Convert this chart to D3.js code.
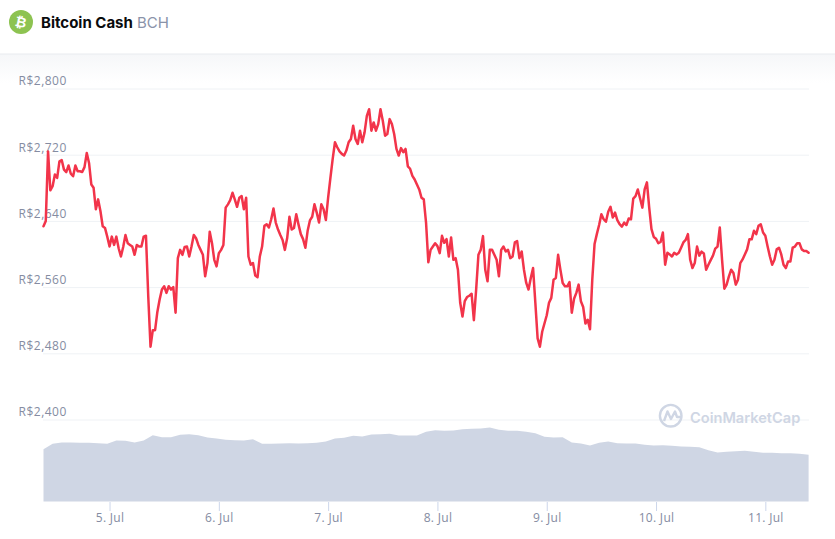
<!DOCTYPE html>
<html><head><meta charset="utf-8">
<script src="https://cdn.jsdelivr.net/npm/d3@7"></script>
<style>html,body{margin:0;padding:0;background:#fff}svg{display:block}text{font-family:Inter,"Liberation Sans",sans-serif}</style>
</head><body><div id="chart"></div>
<script>
const title="Bitcoin Cash", symbol="BCH", watermark="CoinMarketCap";
const priceTicks=[2400,2480,2560,2640,2720,2800];
const dayTicks=[5,6,7,8,9,10,11];
// price every 30 minutes starting 4 Jul 09:30 UTC
const priceValues=[2633.5,2640,2724,2677,2682,2696,2692,2712,2713.5,2702,2699,2707,2697,2694,2707,2700,2700,2699,2705,2722,2710,2684,2680,2654,2666,2652,2633.5,2631.5,2621,2609,2621,2611,2621,2607,2597,2608.5,2623,2613,2611,2609,2599,2611,2609,2609,2621,2622,2549,2488,2508,2508,2530,2545,2557,2561,2553,2561,2557,2560,2529,2595,2605,2599,2608.5,2609,2597,2609,2623,2619,2611,2605,2599,2573,2589,2627,2613,2593,2585,2601,2605,2611,2656,2660,2665,2674,2666,2657,2668,2670,2654,2668,2597,2587,2589,2574,2572,2597,2609,2634,2636,2632,2642,2655,2638,2629.5,2623,2617,2605,2619,2645,2629.5,2631.5,2648,2635.5,
2624,2618,2607.5,2628,2640.6,2645,2660,2650,2638,2660,2654,2641,2668,2692,2715,2735,2729,2724,2721,2719,2725,2735,2739,2755,2739,2733,2749,2735,2747,2767,2775,2749,2759,2749,2757,2775,2761,2743,2745,2763,2757,2745,2727,2719,2728,2723,2727,2706,2703,2694.5,2690,2684,2678,2668,2666,2638,2590,2605,2609,2613,2609.5,2601,2622,2613.5,2618,2597,2620,2593,2595,2581,2541,2524.5,2543,2548,2549.6,2552,2520,2557,2599,2605,2621.6,2581,2567,2605,2605,2599,2593,2573,2605,2609,2603,2605,2595,2597,2614,2615.5,2595,2603,2581,2565,2557,2571,2583,2541,2498,2488,2506,2516,2526,2541,2547,2569,2571,2599,
2581,2565,2561,2561,2566,2529,2546,2553,2563,2543,2536,2516,2520.6,2509,2569,2612,2624,2635,2648,2642,2639,2651,2657,2644,2650,2641,2636,2633,2638,2635,2643,2642,2667,2670,2678,2667,2656,2678,2686.6,2656,2630,2620.6,2618.5,2613,2614.5,2626,2587,2601.5,2599.5,2597,2601.5,2599.5,2601.5,2607.6,2614,2617,2624,2593,2583,2589,2609,2598,2602.8,2600.7,2581,2587,2592.6,2598,2606.4,2609,2632,2593,2558,2563,2573,2581,2577,2563,2569,2589,2593.4,2599.5,2605.6,2617.7,2617.7,2628,2624,2634,2636,2626,2622,2609,2597,2587,2593,2605.6,2607.6,2599.5,2587,2583,2591,2591,2607.6,2609,2613,2613,2605.6,2603.6,2603.6,2601.5];
// volume (R$ bn) every 2 hours starting 4 Jul 09:30 UTC
const volumeValues=[5.23,5.77,5.9,5.9,5.87,5.87,5.83,5.77,6.1,6.07,5.9,6.1,6.63,6.43,6.43,6.67,6.73,6.63,6.4,6.3,6.17,6.13,6.1,6.23,5.77,5.77,5.8,5.83,5.8,5.83,5.87,6.0,6.3,6.37,6.57,6.5,6.7,6.73,6.77,6.6,6.6,6.6,6.97,7.13,7.07,7.1,7.23,7.27,7.3,7.4,7.17,7.07,7.07,6.97,6.83,6.47,6.4,6.43,5.9,5.8,5.6,5.87,6.0,5.83,5.8,5.8,5.67,5.6,5.63,5.57,5.5,5.47,5.43,5.13,4.9,4.97,5.03,5.07,4.97,4.87,4.87,4.83,4.83,4.77,4.67];

const W=835,H=539,HOUR=3600e3;
const start=Date.UTC(2021,6,4,9,30);
const svg=d3.select("#chart").append("svg").attr("width",W).attr("height",H);
const defs=svg.append("defs");
const g=defs.append("linearGradient").attr("id","fade").attr("x1",0).attr("x2",0).attr("y1",0).attr("y2",1);
g.append("stop").attr("offset",0).attr("stop-color","#f6f7f9");
g.append("stop").attr("offset",1).attr("stop-color","#ffffff");

svg.append("rect").attr("x",0).attr("y",55).attr("width",W).attr("height",28).attr("fill","url(#fade)");
svg.append("rect").attr("x",0).attr("y",53.5).attr("width",W).attr("height",1.2).attr("fill","#e9ebef");

const x=d3.scaleUtc().domain([start,start+336*0.5*HOUR]).range([43.5,808.6]);
const y=d3.scaleLinear().domain([2400,2800]).range([419.5,88.5]);
const v=d3.scaleLinear().domain([0,10]).range([501.5,401.5]);

// grid + price labels
const yAxis=d3.axisLeft(y).tickValues(priceTicks).tickSize(-(809-43)).tickFormat(d=>"R$"+d3.format(",")(d));
const ya=svg.append("g").attr("transform","translate(43,0)").call(yAxis);
ya.select(".domain").remove();
ya.selectAll("line").attr("stroke","#eff2f5").attr("stroke-width",1);
ya.selectAll("text").attr("text-anchor","start").attr("x",-24.5).attr("dy","-3.6").attr("fill","#858ca2")
  .style("font-size","12px").style("font-family","'Open Sans',sans-serif").style("letter-spacing","0.5px");

// watermark
const wm=svg.append("g");
wm.append("circle").attr("cx",670.7).attr("cy",415.7).attr("r",10.8).attr("fill","none").attr("stroke","#cfd6e4").attr("stroke-width",2.4);
wm.append("path").attr("d","M664,421 L667.5,411.5 L671,419 L675,411.5 L677,417 L681.5,417").attr("fill","none").attr("stroke","#cfd6e4").attr("stroke-width",2.4).attr("stroke-linejoin","round");
wm.append("text").attr("x",690).attr("y",422.5).attr("fill","#cfd6e4").style("font-size","14.6px").style("font-weight",600).text(watermark);

// volume
const volTime=i=>new Date(start+i*2*HOUR);
svg.append("path").datum(volumeValues)
  .attr("fill","#cfd6e4")
  .attr("d",d3.area().x((d,i)=>x(volTime(i))).y0(v(0)).y1(d=>v(d)));

// x axis
const xAxis=d3.axisBottom(x).tickValues(dayTicks.map(d=>new Date(Date.UTC(2021,6,d)))).tickSize(9).tickPadding(2)
  .tickFormat(d=>d.getUTCDate()+". Jul");
const xa=svg.append("g").attr("transform","translate(0,502)").call(xAxis);
xa.select(".domain").remove();
xa.selectAll("line").attr("stroke","#ccd6eb");
xa.selectAll("text").attr("fill","#858ca2").style("font-size","12px").style("font-family","'Open Sans',sans-serif").style("letter-spacing","0.3px");

// price line
svg.append("path").datum(priceValues).attr("fill","none").attr("stroke","#f2344a").attr("stroke-width",2.5)
  .attr("stroke-linejoin","round").attr("stroke-linecap","round")
  .attr("d",d3.line().x((d,i)=>x(new Date(start+i*0.5*HOUR))).y(d=>y(d)));

// header
svg.append("circle").attr("cx",21).attr("cy",22).attr("r",12).attr("fill","#8dc351");
svg.append("text").attr("x",21).attr("y",27).attr("text-anchor","middle").attr("fill","#fff")
  .attr("transform","rotate(12 21 22)").style("font-family","'DejaVu Sans',sans-serif").style("font-size","14px").style("font-weight",700).text("₿");
const tt=svg.append("text").attr("x",41).attr("y",28).style("font-size","15px");
tt.append("tspan").attr("fill","#0a0b0d").style("font-weight",700).text(title);
tt.append("tspan").attr("dx",4).attr("fill","#8a93a9").text(symbol);
</script>
</body></html>
